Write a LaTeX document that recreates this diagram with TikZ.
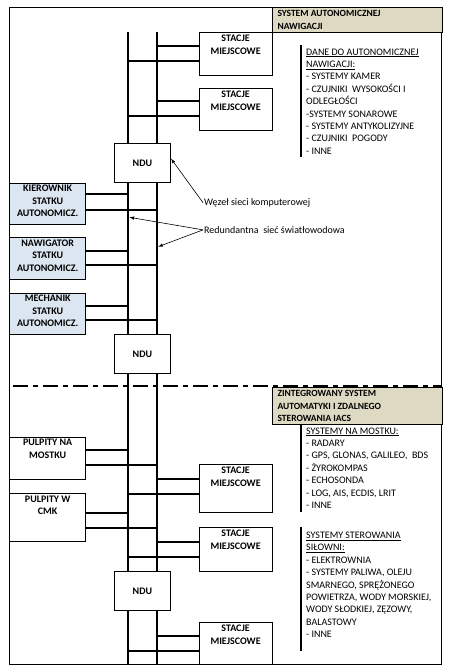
\documentclass[tikz,border=0pt]{standalone}
\usepackage{fontspec}
\setmainfont{Carlito}
\usetikzlibrary{calc,arrows,positioning}
\definecolor{headbg}{HTML}{DDD9C3}
\definecolor{crewbg}{HTML}{DCE6F1}

\begin{document}
\begin{tikzpicture}[x=1pt, y=-1pt, line/.style={>=latex},
    bus/.style={line width=2.2pt},
    link/.style={line width=2pt},
    box/.style={draw, line width=0.8pt, fill=white, inner sep=0pt, anchor=north west},
    boxtxt/.style={inner sep=0pt, align=center, font=\bfseries\fontsize{10}{12.7}\selectfont},
    listtxt/.style={anchor=north west, inner sep=0pt, align=left, font=\fontsize{10}{12.4}\selectfont},
    headtxt/.style={listtxt, font=\bfseries\fontsize{9.5}{12.4}\selectfont},
    bar/.style={line width=1.8pt}]

        \useasboundingbox (0, 0) rectangle (453, 669);
        \draw[line width=0.8pt] (9.5, 7.5) rectangle (441.5, 664);

        % magistrale swiatlowodowe
        \coordinate (B1) at (128, 32.3);
        \coordinate (B2) at (156.7, 32.3);
        \draw[bus] (B1) -- (B1 |- 0,664);
        \draw[bus] (B2) -- (B2 |- 0,664);

        % stacje miejscowe
        \foreach \n/\y/\h/\yu/\yl in {st1/32.3/43/45.7/60.7, st2/88.3/41.7/100.7/115.7,
            st3/464.3/48/479.3/494, st4/527/44.3/541.7/556.7, st5/622.3/41.7/635.7/651} {
            \node[box, minimum width=73pt, minimum height=\h pt] (\n) at (198.7, \y) {};
            \node[boxtxt, below=2.8pt of \n.north] {STACJE\\MIEJSCOWE};
            \draw[link] (B2 |- 0,\yu) -- (\n.west |- 0,\yu);
            \draw[link] (B1 |- 0,\yl) -- (\n.west |- 0,\yl);
        }

        % stanowiska i pulpity
        \foreach \n/\y/\h/\yu/\yl/\col/\txt in {
            kier/182.7/41.3/194.3/210/crewbg/{KIEROWNIK\\STATKU\\AUTONOMICZ.},
            naw/237.3/42/250.7/265/crewbg/{NAWIGATOR\\STATKU\\AUTONOMICZ.},
            mech/292.7/41.6/305.7/320/crewbg/{MECHANIK\\STATKU\\AUTONOMICZ.},
            pm/436.7/42.6/450/465/white/{PULPITY NA\\MOSTKU},
            pc/493.3/48/512.7/527.7/white/{PULPITY W\\CMK}} {
            \node[box, fill=\col, minimum width=76pt, minimum height=\h pt] (\n) at (9.3, \y) {};
            \node[boxtxt, font=\bfseries\fontsize{10}{12.5}\selectfont, below=2.4pt of \n.north] {\txt};
            \draw[link] (\n.east |- 0,\yu) -- (B1 |- 0,\yu);
            \draw[link] (\n.east |- 0,\yl) -- (B2 |- 0,\yl);
        }

        % wezly NDU
        \foreach \n/\y in {ndu1/143.3, ndu2/334.3, ndu3/571.3}
            \node[box, minimum width=56.6pt, minimum height=39pt, font=\bfseries\fontsize{10}{12}\selectfont] (\n) at (113.7, \y) {NDU};

        % granica systemow
        \draw[line width=1.6pt, dash pattern=on 15pt off 5pt on 5pt off 5pt] (13, 386) -- (441.5, 386);

        % naglowki
        \node[box, fill=headbg, minimum width=169.8pt, minimum height=24.8pt] (hdr1) at (271.7, 7.5) {};
        \node[headtxt] at (277.3, 10.3) {SYSTEM AUTONOMICZNEJ\\NAWIGACJI};
        \node[box, fill=headbg, minimum width=169.8pt, minimum height=37.3pt] (hdr2) at (271.7, 386.7) {};
        \node[headtxt] at (277.3, 390.3) {ZINTEGROWANY SYSTEM\\AUTOMATYKI I ZDALNEGO\\STEROWANIA IACS};

        % listy systemow
        \draw[bar] (301, 45) -- (301, 156.7);
        \node[listtxt] (dane) at (306, 48.5) {\underline{DANE DO AUTONOMICZNEJ}\\\underline{NAWIGACJI:}\\- SYSTEMY KAMER\\- CZUJNIKI\ \ WYSOKOŚCI I\\ODLEGŁOŚCI\\-SYSTEMY SONAROWE\\- SYSTEMY ANTYKOLIZYJNE\\- CZUJNIKI\ \ POGODY\\- INNE};
        \draw[bar] (301, 424) -- (301, 511.7);
        \node[listtxt] (mostek) at (306, 427.5) {\underline{SYSTEMY NA MOSTKU:}\\- RADARY\\- GPS, GLONAS, GALILEO,\ \ BDS\\- ŻYROKOMPAS\\- ECHOSONDA\\- LOG, AIS, ECDIS, LRIT\\- INNE};
        \draw[bar] (301, 526.7) -- (301, 650.7);
        \node[listtxt] (silownia) at (306, 531.8) {\underline{SYSTEMY STEROWANIA}\\\underline{SIŁOWNI:}\\- ELEKTROWNIA\\- SYSTEMY PALIWA, OLEJU\\SMARNEGO, SPRĘŻONEGO\\POWIETRZA, WODY MORSKIEJ,\\WODY SŁODKIEJ, ZĘZOWY,\\BALASTOWY\\- INNE};

        % opisy
        \coordinate (r1) at (129.5, 217.3);
        \coordinate (r2) at (158.2, 246.7);
        \node[anchor=base west, inner sep=1pt, font=\fontsize{10}{12}\selectfont] (wezel) at (203, 205.3) {Węzeł sieci komputerowej};
        \node[anchor=base west, inner sep=1pt, font=\fontsize{10}{12}\selectfont] (redund) at (203, 233.3) {Redundantna\ \ sieć światłowodowa};
        \draw[->, line, line width=0.6pt] (wezel.west) -- ($(ndu1.east)+(0,-4.5)$);
        \draw[->, line, line width=0.6pt] (redund.west) -- (r1);
        \draw[->, line, line width=0.6pt] (redund.west) -- (r2);
    \end{tikzpicture}
\end{document}
